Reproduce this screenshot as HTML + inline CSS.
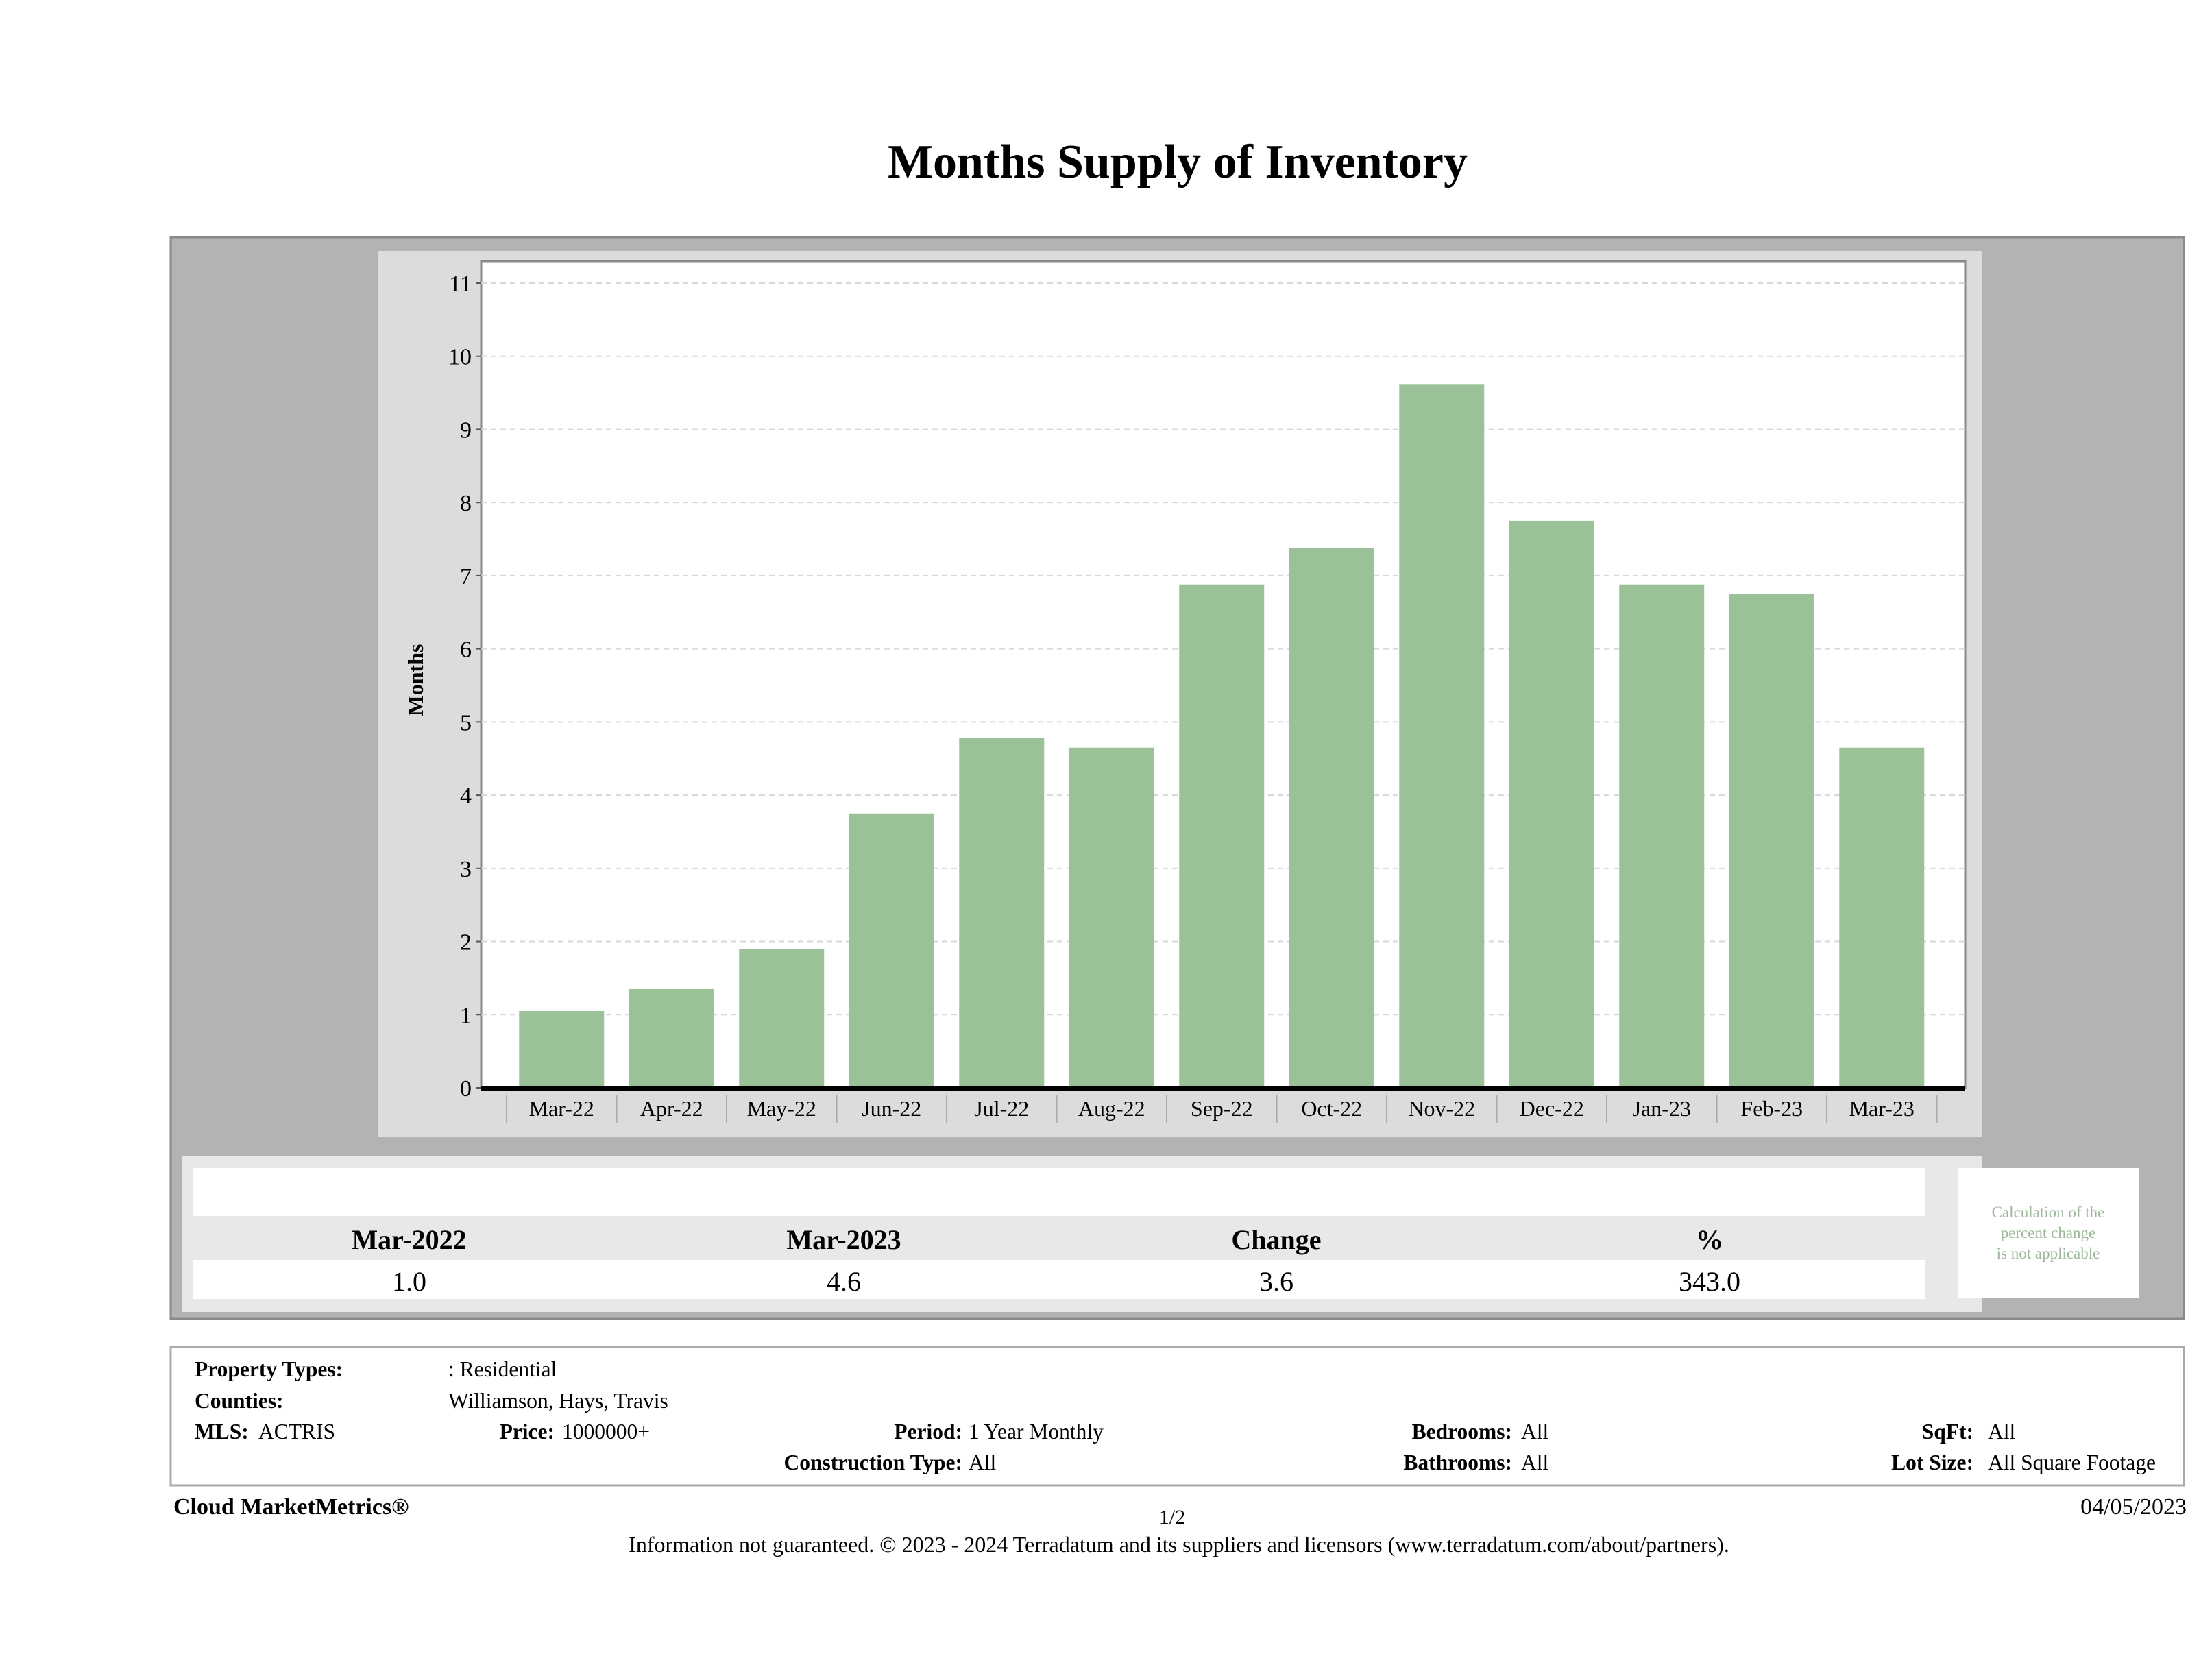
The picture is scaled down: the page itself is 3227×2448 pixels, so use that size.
<!DOCTYPE html>
<html><head><meta charset="utf-8">
<style>
html,body{margin:0;padding:0;background:#fff;}
body{width:3227px;height:2448px;position:relative;overflow:hidden;font-family:"Liberation Serif",serif;}
svg{position:absolute;left:0;top:0;}
</style></head>
<body>
<svg id="chart" width="3227" height="2448" viewBox="0 0 3227 2448" xmlns="http://www.w3.org/2000/svg" font-family="Liberation Serif, serif">
  <text x="1718" y="259" text-anchor="middle" font-size="70" font-weight="bold" fill="#000">Months Supply of Inventory</text>
  <rect x="249" y="346" width="2937" height="1578" fill="#b3b3b3" stroke="#8a8a8a" stroke-width="3"/>
  <rect x="552" y="366" width="2340" height="1293" fill="#dcdcdc"/>
  <rect x="702" y="381" width="2165" height="1206" fill="#fff" stroke="#888" stroke-width="3"/>
  <g id="grid"></g>
  <g id="bars"></g>
  <g id="yaxis"></g>
  <g id="xaxis"></g>
  <text transform="translate(617,992) rotate(-90)" text-anchor="middle" font-size="32" font-weight="bold">Months</text>

  <g>
    <rect x="265" y="1686" width="2627" height="228" fill="#e8e8e8"/>
    <rect x="282" y="1704" width="2527" height="70" fill="#fff"/>
    <rect x="282" y="1838" width="2527" height="57" fill="#fff"/>
    <g font-size="40" font-weight="bold" text-anchor="middle">
      <text x="597" y="1822">Mar-2022</text>
      <text x="1231" y="1822">Mar-2023</text>
      <text x="1862" y="1822">Change</text>
      <text x="2494" y="1822">%</text>
    </g>
    <g font-size="40" text-anchor="middle">
      <text x="597" y="1883">1.0</text>
      <text x="1231" y="1883">4.6</text>
      <text x="1862" y="1883">3.6</text>
      <text x="2494" y="1883">343.0</text>
    </g>
    <rect x="2856" y="1704" width="264" height="189" fill="#fff"/>
    <g font-size="23" fill="#9db89a" text-anchor="middle">
      <text x="2988" y="1776">Calculation of the</text>
      <text x="2988" y="1806">percent change</text>
      <text x="2988" y="1836">is not applicable</text>
    </g>
  </g>

  <rect x="249" y="1965" width="2937" height="202" fill="#fff" stroke="#aaa" stroke-width="3"/>
  <g font-size="31.5" fill="#000">
    <text x="284" y="2008" font-weight="bold">Property Types:</text>
    <text x="654" y="2008">: Residential</text>
    <text x="284" y="2054" font-weight="bold">Counties:</text>
    <text x="654" y="2054">Williamson, Hays, Travis</text>
    <text x="284" y="2099" font-weight="bold">MLS:</text>
    <text x="377" y="2099">ACTRIS</text>
    <text x="809" y="2099" font-weight="bold" text-anchor="end">Price:</text>
    <text x="820" y="2099">1000000+</text>
    <text x="1404" y="2099" font-weight="bold" text-anchor="end">Period:</text>
    <text x="1413" y="2099">1 Year Monthly</text>
    <text x="2206" y="2099" font-weight="bold" text-anchor="end">Bedrooms:</text>
    <text x="2219" y="2099">All</text>
    <text x="2879" y="2099" font-weight="bold" text-anchor="end">SqFt:</text>
    <text x="2900" y="2099">All</text>
    <text x="1404" y="2144" font-weight="bold" text-anchor="end">Construction Type:</text>
    <text x="1413" y="2144">All</text>
    <text x="2206" y="2144" font-weight="bold" text-anchor="end">Bathrooms:</text>
    <text x="2219" y="2144">All</text>
    <text x="2879" y="2144" font-weight="bold" text-anchor="end">Lot Size:</text>
    <text x="2900" y="2144">All Square Footage</text>
  </g>
  <text x="253" y="2209" font-size="34" font-weight="bold">Cloud MarketMetrics®</text>
  <text x="1710" y="2223" font-size="30" text-anchor="middle">1/2</text>
  <text x="3190" y="2209" font-size="34" text-anchor="end">04/05/2023</text>
  <text x="1720" y="2264" font-size="32" text-anchor="middle">Information not guaranteed. © 2023 - 2024 Terradatum and its suppliers and licensors (www.terradatum.com/about/partners).</text>
</svg>
<script>
const categories = ["Mar-22","Apr-22","May-22","Jun-22","Jul-22","Aug-22","Sep-22","Oct-22","Nov-22","Dec-22","Jan-23","Feb-23","Mar-23"];
const values = [1.05,1.35,1.9,3.75,4.78,4.65,6.88,7.38,9.62,7.75,6.88,6.75,4.65];
const yTicks = [0,1,2,3,4,5,6,7,8,9,10,11];

const NS = "http://www.w3.org/2000/svg";
const plotLeft = 702, plotRight = 2867, y0 = 1587, yTop = 413;
const bandStart = 739, bandStep = 160.5, barW = 124;
function yScale(v){ return y0 - (v/11)*(y0 - yTop); }
function xCenter(i){ return bandStart + bandStep*(i+0.5); }
function mk(tag, attrs, parent){ const e=document.createElementNS(NS,tag); for(const k in attrs) e.setAttribute(k,attrs[k]); parent.appendChild(e); return e; }

const grid = document.getElementById('grid');
const yaxis = document.getElementById('yaxis');
yTicks.forEach(t => {
  const y = yScale(t);
  if (t > 0) {
    const g = mk('line',{x1:plotLeft,x2:plotRight,y1:y,y2:y,stroke:'#d8d8d8','stroke-width':2,'stroke-dasharray':'8,6'},grid);
    
    
  }
  const tk = mk('line',{x1:plotLeft-8,x2:plotLeft,y1:y,y2:y,stroke:'#555','stroke-width':2},yaxis);
  
  
  const lb = mk('text',{x:plotLeft-14,y:y+12,'text-anchor':'end','font-size':34},yaxis);
  lb.textContent = t;
  
  
});

const bars = document.getElementById('bars');
values.forEach((v,i) => {
  const y = yScale(v);
  const r = mk('rect',{x:xCenter(i)-barW/2,y:y,width:barW,height:y0-y,fill:'#9bc198'},bars);
  
  
});

const xaxis = document.getElementById('xaxis');
const axl = mk('rect',{x:plotLeft,y:y0-3,width:plotRight-plotLeft,height:8,fill:'#000'},xaxis);


for (let i=0;i<=categories.length;i++){
  const x = bandStart + bandStep*i;
  const s = mk('line',{x1:x,x2:x,y1:y0+10,y2:y0+52,stroke:'#aaa','stroke-width':2},xaxis);
  
  
}
categories.forEach((c,i) => {
  const t = mk('text',{x:xCenter(i),y:1628,'text-anchor':'middle','font-size':32},xaxis);
  t.textContent = c;
  
  
});
</script>
</body></html>
